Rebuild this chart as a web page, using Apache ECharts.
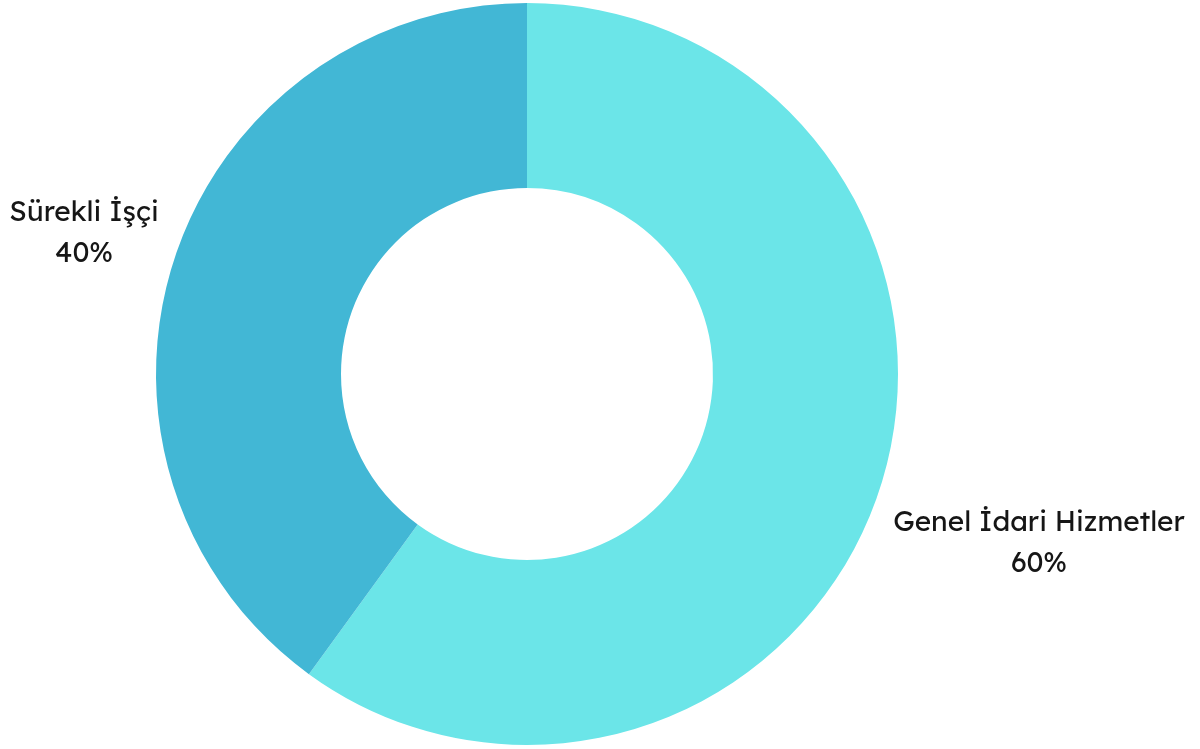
<!DOCTYPE html>
<html><head><meta charset="utf-8">
<script src="https://cdn.jsdelivr.net/npm/echarts@6/dist/echarts.min.js"></script>
<style>html,body{margin:0;padding:0;background:#fff}#c{width:1200px;height:749px}</style>
</head><body><div id="c"></div>
<script>
const categories = ['Genel İdari Hizmetler', 'Sürekli İşçi'];
const values = [60, 40];
const colors = ['#6BE5E8', '#42B7D5'];
const labelSpots = [[1039, 543], [84, 233]];

const chart = echarts.init(document.getElementById('c'), null, {renderer: 'canvas'});
chart.setOption({
  animation: false,
  color: colors,
  series: [{
    type: 'pie',
    center: [527, 374],
    radius: [186, 371],
    startAngle: 90,
    clockwise: true,
    data: categories.map((n, i) => ({name: n, value: values[i]})),
    itemStyle: {borderWidth: 0},
    label: {
      show: true,
      position: 'outside',
      formatter: '{b}\n{d}%',
      fontFamily: 'Lexend, Inter, "Open Sans", sans-serif',
      fontSize: 28,
      lineHeight: 41,
      color: '#161616',
      align: 'center',
      overflow: 'none',
      width: 400
    },
    labelLine: {show: false},
    labelLayout: function (p) {
      const s = labelSpots[p.dataIndex];
      return {x: s[0], y: s[1], align: 'center', verticalAlign: 'middle'};
    }
  }]
});
</script></body></html>
